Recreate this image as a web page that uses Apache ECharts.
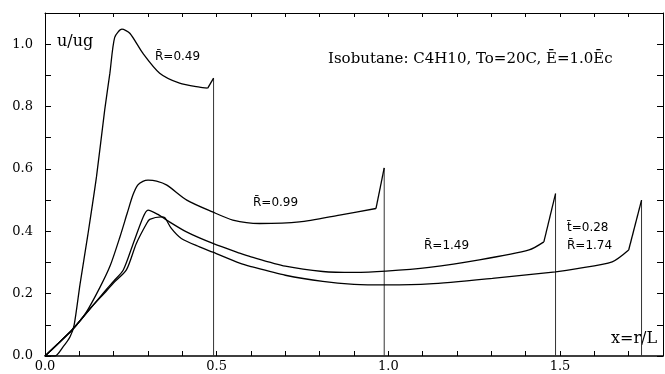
<!DOCTYPE html>
<html>
<head>
<meta charset="utf-8">
<script src="https://cdn.jsdelivr.net/npm/echarts@6/dist/echarts.min.js"></script>
<style>html,body{margin:0;padding:0;background:#fff}#c{width:665px;height:374px}</style>
</head>
<body>
<div id="c"></div>
<script>
// R = 0.49
const r049X = [0, 0.029, 0.053, 0.073, 0.085, 0.102, 0.125, 0.15, 0.174, 0.189, 0.203, 0.224, 0.247, 0.285, 0.334, 0.392, 0.45, 0.474, 0.491];
const r049Y = [0, 0.0, 0.03, 0.062, 0.1, 0.23, 0.39, 0.575, 0.79, 0.907, 1.022, 1.048, 1.035, 0.971, 0.907, 0.875, 0.862, 0.859, 0.891];
// R = 0.99
const r099X = [0, 0.04, 0.08, 0.12, 0.16, 0.19, 0.218, 0.24, 0.256, 0.27, 0.285, 0.3, 0.325, 0.355, 0.413, 0.488, 0.547, 0.625, 0.741, 0.858, 0.964, 0.988];
const r099Y = [0, 0.042, 0.085, 0.14, 0.22, 0.29, 0.381, 0.46, 0.516, 0.548, 0.56, 0.564, 0.561, 0.548, 0.5, 0.462, 0.436, 0.425, 0.43, 0.452, 0.473, 0.603];
// R = 1.49
const r149X = [0, 0.08, 0.13, 0.18, 0.2, 0.228, 0.257, 0.286, 0.3, 0.329, 0.354, 0.412, 0.489, 0.567, 0.6, 0.7, 0.809, 0.9, 0.993, 1.119, 1.265, 1.41, 1.453, 1.487];
const r149Y = [0, 0.085, 0.15, 0.215, 0.24, 0.276, 0.361, 0.446, 0.468, 0.454, 0.436, 0.398, 0.361, 0.33, 0.318, 0.288, 0.271, 0.268, 0.272, 0.284, 0.308, 0.34, 0.366, 0.521];
// R = 1.74
const r174X = [0, 0.08, 0.13, 0.18, 0.2, 0.237, 0.266, 0.296, 0.305, 0.339, 0.349, 0.368, 0.397, 0.45, 0.489, 0.567, 0.6, 0.7, 0.809, 0.9, 0.993, 1.119, 1.303, 1.487, 1.55, 1.652, 1.70, 1.7375];
const r174Y = [0, 0.085, 0.15, 0.21, 0.235, 0.276, 0.361, 0.425, 0.438, 0.446, 0.444, 0.409, 0.377, 0.35, 0.333, 0.298, 0.287, 0.259, 0.239, 0.23, 0.228, 0.231, 0.249, 0.27, 0.28, 0.302, 0.34, 0.5];

const yTickLabels = ['0.0', '0.2', '0.4', '0.6', '0.8', '1.0'];
const xTickLabels = ['0.0', '0.5', '1.0', '1.5'];

const curves = [[r049X, r049Y], [r099X, r099Y], [r149X, r149Y], [r174X, r174Y]];
const zip = (xs, ys) => xs.map((x, i) => [x, ys[i]]);

const series = [];
curves.forEach(([xs, ys]) => {
  const pts = zip(xs, ys);
  const n = pts.length;
  series.push({
    type: 'line', data: pts.slice(0, n - 1), showSymbol: false, symbol: 'none',
    smooth: 0.25,
    lineStyle: { color: '#000', width: 1.3 }, animation: false, z: 3
  });
  series.push({
    type: 'line', data: pts.slice(n - 2), showSymbol: false, symbol: 'none',
    lineStyle: { color: '#000', width: 1.3 }, animation: false, z: 3
  });
  const lx = xs[n - 1], ly = ys[n - 1];
  series.push({
    type: 'line', data: [[lx, ly], [lx, 0]], showSymbol: false, symbol: 'none',
    lineStyle: { color: '#333', width: 1 }, animation: false, z: 2
  });
});

const serif = 'DejaVu Serif';
const chart = echarts.init(document.getElementById('c'), null, { renderer: 'canvas' });
const fmtX = v => { const s = (Math.round(v * 10) / 10).toFixed(1); return xTickLabels.includes(s) ? s : ''; };
const fmtY = v => { const s = (Math.round(v * 10) / 10).toFixed(1); return yTickLabels.includes(s) ? s : ''; };

chart.setOption({
  animation: false,
  backgroundColor: '#fff',
  grid: { left: 45, right: 2, top: 13, bottom: 18, containLabel: false },
  xAxis: [
    { type: 'value', min: 0, max: 1.8, interval: 0.1, position: 'bottom',
      axisLine: { show: true, onZero: false, lineStyle: { color: '#000', width: 1.5 } },
      axisTick: { inside: true, length: 5, lineStyle: { color: '#000', width: 1 } },
      axisLabel: { formatter: fmtX, fontFamily: serif, fontSize: 13, color: '#000', margin: 4, showMaxLabel: false },
      splitLine: { show: false } },
    { type: 'value', min: 0, max: 1.8, interval: 0.1, position: 'top',
      axisLine: { show: true, onZero: false, lineStyle: { color: '#000', width: 1 } },
      axisTick: { inside: true, length: 4, lineStyle: { color: '#000', width: 1 } },
      axisLabel: { show: false }, splitLine: { show: false } }
  ],
  yAxis: [
    { type: 'value', min: 0, max: 1.1, interval: 0.1, position: 'left',
      axisLine: { show: true, onZero: false, lineStyle: { color: '#000', width: 1 } },
      axisTick: { inside: true, length: 6, lineStyle: { color: '#000', width: 1 } },
      axisLabel: { formatter: fmtY, fontFamily: serif, fontSize: 13, color: '#000', margin: 12 },
      splitLine: { show: false } },
    { type: 'value', min: 0, max: 1.1, interval: 0.1, position: 'right',
      axisLine: { show: true, onZero: false, lineStyle: { color: '#000', width: 1 } },
      axisTick: { inside: true, length: 6, lineStyle: { color: '#000', width: 1 } },
      axisLabel: { show: false }, splitLine: { show: false } }
  ],
  series: series,
  graphic: [
    { type: 'text', left: 57, top: 34, style: { text: 'u/ug', font: '16px "DejaVu Serif"', fill: '#000' } },
    { type: 'text', left: 155, top: 51, style: { text: 'R\u0304=0.49', font: '12px "DejaVu Sans"', fill: '#000' } },
    { type: 'text', left: 328, top: 52, style: { text: 'Isobutane: C4H10, To=20C, E\u0304=1.0E\u0304c', font: '15px "DejaVu Serif"', fill: '#000' } },
    { type: 'text', left: 253, top: 197, style: { text: 'R\u0304=0.99', font: '12px "DejaVu Sans"', fill: '#000' } },
    { type: 'text', left: 424, top: 240, style: { text: 'R\u0304=1.49', font: '12px "DejaVu Sans"', fill: '#000' } },
    { type: 'text', left: 567, top: 222, style: { text: 't\u0304=0.28', font: '12px "DejaVu Sans"', fill: '#000' } },
    { type: 'text', left: 567, top: 240, style: { text: 'R\u0304=1.74', font: '12px "DejaVu Sans"', fill: '#000' } },
    { type: 'text', left: 611, top: 331, style: { text: 'x=r/L', font: '16px "DejaVu Serif"', fill: '#000' } }
  ]
});
</script>
</body>
</html>
